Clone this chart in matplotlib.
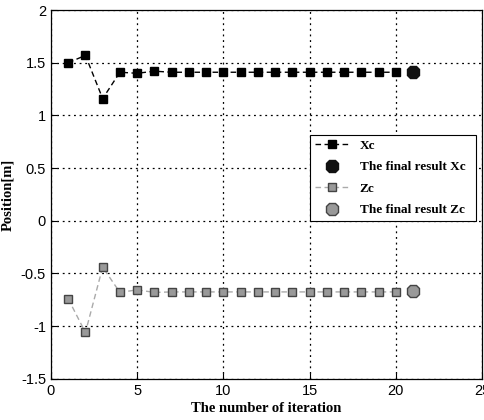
import matplotlib
matplotlib.use("Agg")
import matplotlib.pyplot as plt

iterations = list(range(1, 21))
xc = [1.50, 1.57, 1.16, 1.41, 1.40, 1.42, 1.41, 1.41, 1.41, 1.41,
      1.41, 1.41, 1.41, 1.41, 1.41, 1.41, 1.41, 1.41, 1.41, 1.41]
zc = [-0.74, -1.06, -0.44, -0.68, -0.655, -0.68, -0.675, -0.675, -0.675, -0.675,
      -0.675, -0.675, -0.675, -0.675, -0.675, -0.675, -0.675, -0.675, -0.675, -0.675]
final_iter = 21
final_xc = 1.41
final_zc = -0.67

xticks = [0, 5, 10, 15, 20, 25]
yticks = [-1.5, -1, -0.5, 0, 0.5, 1, 1.5, 2]
ytick_labels = ["-1.5", "-1", "-0.5", "0", "0.5", "1", "1.5", "2"]

fig = plt.figure(figsize=(4.85, 4.2), dpi=100)
ax = fig.add_axes([0.105, 0.098, 0.889, 0.878])

ax.plot(iterations, xc, color="black", linestyle=(0, (4, 2.5)), linewidth=1,
        marker="s", markersize=5.5, markerfacecolor="black",
        markeredgecolor="black", label="Xc")
ax.plot([final_iter], [final_xc], linestyle="none", marker="8",
        markersize=10, markerfacecolor="#111111", markeredgecolor="#111111",
        label="The final result Xc")
ax.plot(iterations, zc, color="#aaaaaa", linestyle=(0, (4, 2.5)), linewidth=1,
        marker="s", markersize=5.5, markerfacecolor="#999999",
        markeredgecolor="#444444", markeredgewidth=1, label="Zc")
ax.plot([final_iter], [final_zc], linestyle="none", marker="8",
        markersize=10, markerfacecolor="#999999", markeredgecolor="#444444",
        label="The final result Zc")

ax.set_xlim(0, 25)
ax.set_ylim(-1.5, 2)
ax.set_xticks(xticks)
ax.set_yticks(yticks)
ax.set_yticklabels(ytick_labels)
ax.tick_params(direction="in", length=4, labelsize=10.5, width=0.8)
for lab in ax.get_xticklabels() + ax.get_yticklabels():
    lab.set_family("Liberation Sans")

ax.grid(color="black", linestyle=(0, (1.5, 3)), linewidth=0.9)
for sp in ax.spines.values():
    sp.set_linewidth(0.9)

ax.set_xlabel("The number of iteration", family="Liberation Serif",
              fontweight="bold", fontsize=10.5, labelpad=3)
ax.set_ylabel("Position[m]", family="Liberation Serif",
              fontweight="bold", fontsize=10.5, labelpad=5)

leg = ax.legend(loc="upper left", bbox_to_anchor=(0.601, 0.425, 0.385, 0.236),
                mode="expand", fancybox=False, framealpha=1, edgecolor="black",
                prop={"family": "Liberation Serif", "weight": "bold", "size": 9.5},
                handlelength=2.6, borderpad=0.35, labelspacing=0.7,
                borderaxespad=0)
leg.get_frame().set_linewidth(0.8)

fig.savefig("out.png", dpi=100)
